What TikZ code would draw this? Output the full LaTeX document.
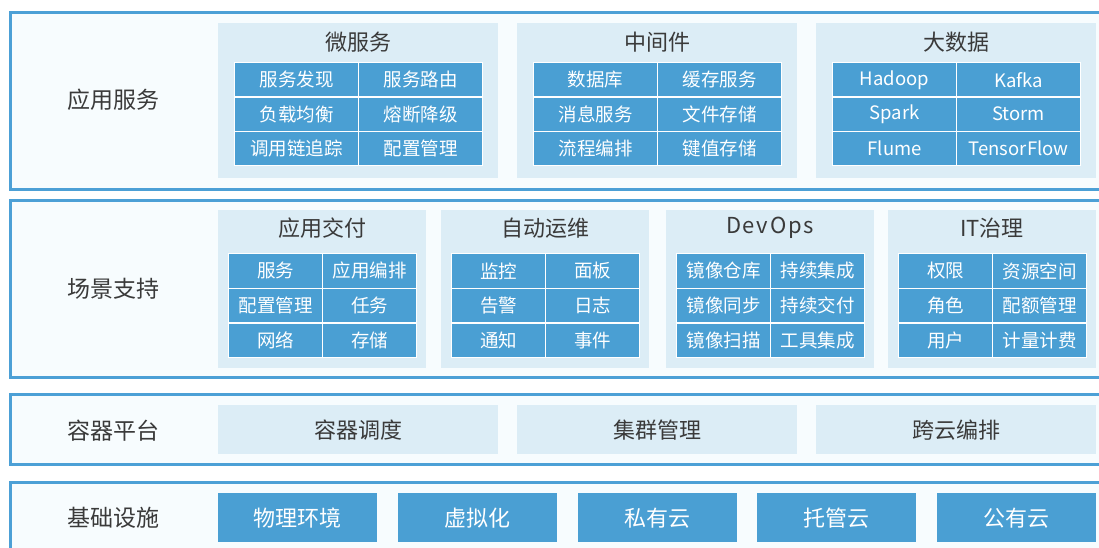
\documentclass[tikz,border=0pt]{standalone}
\usepackage{fontspec}
\setmainfont{Noto Sans CJK SC}
\definecolor{bordc}{HTML}{4CA0D6}
\definecolor{layerfill}{HTML}{F7FCFE}
\definecolor{panelc}{HTML}{DCEDF6}
\definecolor{cellc}{HTML}{4A9FD3}
\definecolor{txtc}{HTML}{3A3A3A}
\tikzset{
  layer/.style={draw=bordc, line width=3pt, fill=layerfill},
  panel/.style={fill=panelc, draw=none, inner sep=0pt, anchor=north west},
  cell/.style={fill=cellc, draw=white, line width=1.2pt, text=white, inner sep=0pt, anchor=north west, font=\fontsize{18.5}{20}\selectfont},
  bigcell/.style={fill=cellc, draw=none, text=white, inner sep=0pt, anchor=north west, font=\fontsize{22}{24}\selectfont, minimum width=159pt, minimum height=49pt},
  title/.style={text=txtc, font=\fontsize{22}{24}\selectfont, inner sep=0pt},
  rowlabel/.style={text=txtc, font=\fontsize{23}{25}\selectfont, inner sep=0pt},
}
\begin{document}
\begin{tikzpicture}[x=1pt,y=-1pt]
\useasboundingbox (0,0) rectangle (1099,547);
\clip (0,0) rectangle (1099,547);
\fill[white] (0,0) rectangle (1099,547);
% layers
\draw[layer] (10.5,12) rectangle (1115,189);
\draw[layer] (10.5,200) rectangle (1115,377);
\draw[layer] (10.5,394) rectangle (1115,464);
\draw[layer] (10.5,482) rectangle (1115,570);
% row labels
\node[rowlabel] (l1) at (113,100) {应用服务};
\node[rowlabel] (l2) at (113,289) {场景支持};
\node[rowlabel] (l3) at (113,431) {容器平台};
\node[rowlabel] (l4) at (113,518) {基础设施};
% row 1
\foreach \k/\px/\ttl/\ca/\cb/\cc/\cd/\ce/\cf in {
  1/218/微服务/服务发现/服务路由/负载均衡/熔断降级/调用链追踪/配置管理,
  2/517/中间件/数据库/缓存服务/消息服务/文件存储/流程编排/键值存储,
  3/816/大数据/Hadoop/Kafka/Spark/Storm/Flume/TensorFlow}{
  \node[panel, minimum width=280pt, minimum height=155pt] (pa\k) at (\px,23) {};
  \node[title] (ta\k) at (\px+140,42) {\ttl};
  \begin{scope}[every node/.append style={cell, minimum width=124pt, minimum height=34.33pt}]
    \node (ca\k a) at (\px+16,62) {\ca};
    \node (ca\k b) at (\px+140,62) {\cb};
    \node (ca\k c) at (\px+16,96.33) {\cc};
    \node (ca\k d) at (\px+140,96.33) {\cd};
    \node (ca\k e) at (\px+16,130.67) {\ce};
    \node (ca\k f) at (\px+140,130.67) {\cf};
  \end{scope}
}
% row 2
\foreach \k/\px/\ttl/\ca/\cb/\cc/\cd/\ce/\cf in {
  1/218/应用交付/服务/应用编排/配置管理/任务/网络/存储,
  2/441/自动运维/监控/面板/告警/日志/通知/事件,
  3/666/{\addfontfeature{LetterSpace=8}DevOps}/镜像仓库/持续集成/镜像同步/持续交付/镜像扫描/工具集成,
  4/888/IT治理/权限/资源空间/角色/配额管理/用户/计量计费}{
  \node[panel, minimum width=208pt, minimum height=158pt] (pb\k) at (\px,210) {};
  \node[title] (tb\k) at (\px+104,228) {\ttl};
  \begin{scope}[every node/.append style={cell, minimum width=94pt, minimum height=34.67pt}]
    \node (cb\k a) at (\px+10,253) {\ca};
    \node (cb\k b) at (\px+104,253) {\cb};
    \node (cb\k c) at (\px+10,287.67) {\cc};
    \node (cb\k d) at (\px+104,287.67) {\cd};
    \node (cb\k e) at (\px+10,322.33) {\ce};
    \node (cb\k f) at (\px+104,322.33) {\cf};
  \end{scope}
}
% row 3
\foreach \k/\px/\ttl in {1/218/容器调度, 2/517/集群管理, 3/816/跨云编排}{
  \node[panel, minimum width=280pt, minimum height=49pt] (pc\k) at (\px,405) {};
  \node[title] (tc\k) at (\px+140,430) {\ttl};
}
% row 4
\foreach \k/\px/\ttl in {1/218/物理环境, 2/397.75/虚拟化, 3/577.5/私有云, 4/757.25/托管云, 5/937/公有云}{
  \node[bigcell] (pd\k) at (\px,493) {\ttl};
}
\end{tikzpicture}
\end{document}
